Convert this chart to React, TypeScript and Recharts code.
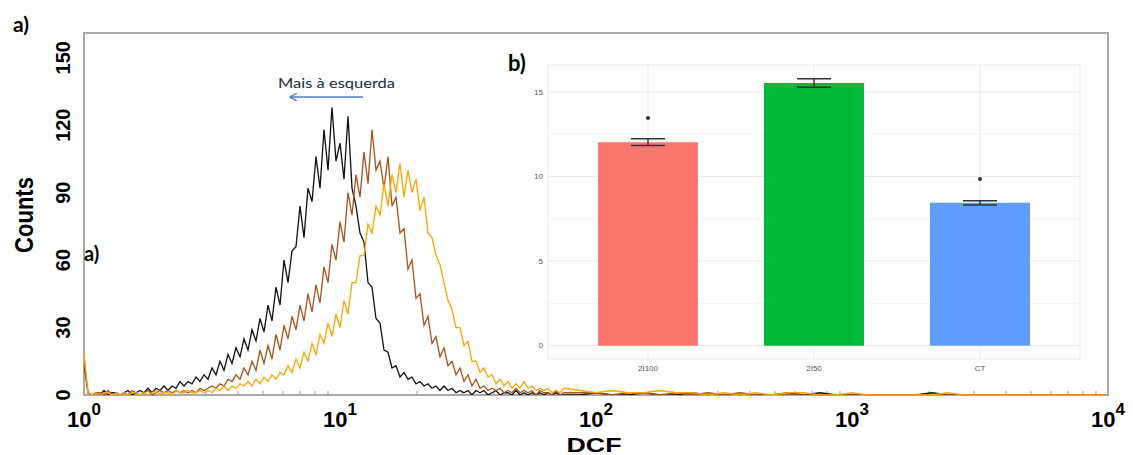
import React from 'react';
import {
  LineChart, Line, XAxis, YAxis, ReferenceArea, ReferenceLine,
  ComposedChart, Bar, ErrorBar, CartesianGrid, Cell,
} from 'recharts';

// ---------- Histogram (a) ----------
// channel = 256 * log10(DCF); main region sampled every 4 channels (0..480)
const BLACK_MAIN = [
  14, 1, 0, 1, 0, 2, 0, 1, 1, 0,
  1, 2, 0, 1, 2, 1, 3, 1, 3, 2,
  4, 2, 4, 3, 6, 4, 6, 5, 8, 6,
  9, 7, 12, 9, 15, 11, 18, 14, 21, 17,
  25, 20, 29, 24, 34, 28, 40, 33, 48, 40,
  60, 50, 64, 66, 84, 70, 92, 86, 106, 92,
  118, 100, 128, 104, 112, 96, 124, 92, 84, 72,
  68, 50, 48, 34, 32, 20, 19, 12, 13, 8,
  10, 7, 8, 5, 6, 4, 5, 3, 4, 2,
  4, 2, 3, 1, 2, 1, 2, 0, 2, 1,
  2, 0, 1, 2, 0, 1, 1, 0, 2, 0,
  1, 0, 1, 0, 1, 0, 1, 0, 1, 0,
  0,
];
const BROWN_MAIN = [
  15, 1, 0, 1, 1, 0, 2, 0, 1, 0,
  1, 0, 2, 1, 0, 1, 2, 0, 1, 2,
  1, 2, 1, 2, 1, 2, 1, 2, 1, 3,
  2, 3, 4, 3, 5, 4, 7, 6, 9, 7,
  12, 9, 15, 11, 20, 14, 22, 16, 27, 20,
  31, 25, 35, 29, 40, 33, 45, 37, 49, 41,
  57, 50, 67, 60, 77, 68, 90, 80, 98, 88,
  108, 94, 118, 100, 104, 92, 106, 84, 88, 72,
  74, 56, 60, 43, 45, 31, 35, 23, 26, 17,
  21, 13, 15, 9, 12, 6, 9, 4, 7, 3,
  4, 2, 3, 2, 3, 1, 2, 1, 3, 1,
  2, 1, 2, 0, 2, 1, 1, 0, 2, 0,
  1,
];
const ORANGE_MAIN = [
  19, 1, 0, 1, 0, 1, 1, 0, 1, 0,
  1, 0, 1, 1, 0, 1, 0, 1, 2, 0,
  1, 1, 0, 2, 1, 1, 2, 1, 1, 2,
  1, 2, 1, 3, 2, 4, 2, 4, 3, 5,
  4, 6, 4, 7, 5, 8, 6, 9, 7, 10,
  9, 13, 10, 16, 12, 19, 15, 23, 18, 27,
  23, 32, 26, 36, 30, 42, 36, 50, 50, 62,
  62, 76, 72, 84, 80, 94, 84, 98, 90, 103,
  88, 100, 90, 96, 82, 88, 72, 70, 62, 58,
  50, 42, 38, 30, 30, 22, 24, 15, 15, 10,
  12, 8, 9, 5, 7, 4, 6, 3, 5, 3,
  6, 3, 4, 2, 3, 2, 3, 1, 2, 1,
  3,
];
// tail region sampled every 16 channels
const TAIL_CHANNELS = [
  496, 512, 528, 544, 560, 576, 592, 608, 624, 640,
  656, 672, 688, 704, 720, 736, 752, 768, 784, 800,
  816, 832, 848, 864, 880, 896, 912, 928, 944, 960,
  976, 992, 1008, 1024,
];
const BLACK_TAIL = [0, 1, 0, 0, 1, 0, 0, 1, 0, 0, 0, 0, 0, 1, 0, 1, 0, 0, 0, 0, 0, 0, 1, 0, 0, 0, 0, 0, 0, 0, 0, 0, 0, 0];
const BROWN_TAIL = [1, 1, 0, 1, 1, 0, 1, 0, 1, 0, 1, 0, 0, 0, 0, 0, 0, 0, 0, 0, 0, 0, 0, 0, 0, 0, 0, 0, 0, 0, 0, 0, 0, 0];
const ORANGE_TAIL = [2, 1, 2, 1, 1, 2, 1, 1, 0, 1, 0, 1, 0, 1, 1, 0, 0, 1, 0, 0, 0, 0, 0, 1, 0, 0, 0, 0, 0, 0, 0, 0, 0, 0];

const X_TICKS = [0, 256, 512, 768, 1024];
const X_TICK_EXPONENTS = ['0', '1', '2', '3', '4'];
const Y_TICKS = [0, 30, 60, 90, 120, 150];
const Y_MAX = 161;

const CHANNELS = [...BLACK_MAIN.map((_, i) => i * 4), ...TAIL_CHANNELS];
const BLACK = [...BLACK_MAIN, ...BLACK_TAIL];
const BROWN = [...BROWN_MAIN, ...BROWN_TAIL];
const ORANGE = [...ORANGE_MAIN, ...ORANGE_TAIL];
const histData = CHANNELS.map((ch, i) => ({ ch, black: BLACK[i], brown: BROWN[i], orange: ORANGE[i] }));

const MINOR_TICKS: number[] = [];
for (let k = 0; k < 4; k++) {
  for (let m = 2; m <= 9; m++) MINOR_TICKS.push(Math.round(256 * (k + Math.log10(m))));
}

// ---------- Inset bar chart (b) ----------
const GROUPS = ['2I100', '2I50', 'CT'];
const MEANS = [12.03, 15.52, 8.44];
const ERRORS = [0.2, 0.25, 0.12];
const OUTLIERS = [13.45, null, 9.85];
const BAR_COLORS = ['#F8766D', '#00BA38', '#619CFF'];
const INSET_Y_TICKS = [0, 5, 10, 15];
const INSET_MINOR = [2.5, 7.5, 12.5];
const INSET_DOMAIN: [number, number] = [-0.79, 16.59];
const barData = GROUPS.map((g, i) => ({ group: g, mean: MEANS[i], err: ERRORS[i], outlier: OUTLIERS[i] }));

const AXIS_FONT = '"Liberation Sans", Arial, sans-serif';
const NOTE_FONT = 'Lato, "Open Sans", sans-serif';

const LogTick = (props: any) => {
  const { x, y, payload } = props;
  const idx = X_TICKS.indexOf(payload.value);
  return (
    <text x={x} y={y + 32} textAnchor="middle" fontFamily={AXIS_FONT} fontWeight="bold" fontSize={22} fill="#000">
      <tspan>10</tspan>
      <tspan dy={-12} fontSize={17}>{X_TICK_EXPONENTS[idx]}</tspan>
    </text>
  );
};

const RotTick = (props: any) => {
  const { x, y, payload } = props;
  const bx = x - 14;
  const label = String(payload.value);
  return (
    <text
      x={bx}
      y={y}
      transform={`rotate(-90, ${bx}, ${y})`}
      textAnchor="middle"
      fontFamily={AXIS_FONT}
      fontWeight="bold"
      fontSize={20}
      fill="#000"
    >
      {label}
    </text>
  );
};

const minorGridGenerator = (props: any) => {
  try {
    const scale = props?.yAxis?.scale;
    if (typeof scale === 'function') return INSET_MINOR.map((v) => scale(v));
    if (scale && typeof scale.map === 'function') return INSET_MINOR.map((v) => scale.map(v));
  } catch (e) {
    // ignore
  }
  return [];
};

export default function App() {
  return (
    <div style={{ position: 'absolute', left: 0, top: 0, width: 1133, height: 455, background: '#fff' }}>
      <div style={{ position: 'absolute', left: 0, top: 0 }}>
        <LineChart width={1133} height={455} data={histData} margin={{ top: 33, right: 25, bottom: 10, left: 44 }}>
          <XAxis
            dataKey="ch"
            type="number"
            domain={[0, 1024]}
            ticks={X_TICKS}
            interval={0}
            tick={<LogTick />}
            axisLine={false}
            tickLine={false}
            tickSize={0}
            tickMargin={0}
            height={50}
            allowDataOverflow
          />
          <YAxis
            type="number"
            domain={[0, Y_MAX]}
            ticks={Y_TICKS}
            interval={0}
            tick={<RotTick />}
            axisLine={false}
            tickLine={false}
            tickSize={0}
            tickMargin={0}
            width={40}
            allowDataOverflow
          />
          <ReferenceArea x1={0} x2={1024} y1={0} y2={Y_MAX} fill="none" stroke="#a9a9a9" strokeWidth={2} />
          {MINOR_TICKS.map((c) => (
            <ReferenceLine key={c} segment={[{ x: c, y: 0 }, { x: c, y: 1.8 }]} stroke="#999" strokeWidth={1} />
          ))}
          <Line dataKey="black" stroke="#111" strokeWidth={1.3} dot={false} isAnimationActive={false} type="linear" />
          <Line dataKey="brown" stroke="#a8521c" strokeWidth={1.3} dot={false} isAnimationActive={false} type="linear" />
          <Line dataKey="orange" stroke="#ffa500" strokeWidth={1.3} dot={false} isAnimationActive={false} type="linear" />
        </LineChart>
      </div>

      <div style={{ position: 'absolute', left: 500, top: 40 }}>
        <ComposedChart width={600} height={340} data={barData} margin={{ top: 25, right: 20, bottom: 5, left: 18 }}>
          <CartesianGrid stroke="#f3f3f3" strokeWidth={1} vertical={false} horizontalCoordinatesGenerator={minorGridGenerator} />
          <CartesianGrid stroke="#ebebeb" strokeWidth={1} />
          <XAxis
            dataKey="group"
            padding={{ left: 17, right: 17 }}
            axisLine={false}
            tickLine={false}
            tickSize={4}
            height={16}
            tick={{ fontSize: 8, fill: '#555', fontFamily: AXIS_FONT }}
          />
          <YAxis
            type="number"
            domain={INSET_DOMAIN}
            ticks={INSET_Y_TICKS}
            interval={0}
            axisLine={false}
            tickLine={false}
            tickSize={3}
            width={30}
            allowDataOverflow
            tick={{ fontSize: 8, fill: '#555', fontFamily: AXIS_FONT }}
          />
          <Bar dataKey="mean" barSize={100} isAnimationActive={false}>
            {barData.map((d, i) => (
              <Cell key={d.group} fill={BAR_COLORS[i]} />
            ))}
            <ErrorBar dataKey="err" width={17} stroke="#333" strokeWidth={1.5} />
          </Bar>
          <Line dataKey="outlier" stroke="none" dot={{ r: 2, fill: '#333', stroke: 'none' }} isAnimationActive={false} />
        </ComposedChart>
      </div>

      <svg width={1133} height={455} style={{ position: 'absolute', left: 0, top: 0, pointerEvents: 'none' }}>
        <defs>
          <marker id="arrowhead" markerWidth="8" markerHeight="8" refX="7" refY="4" orient="auto" markerUnits="userSpaceOnUse">
            <path d="M0,0 L7,4 L0,8" fill="none" stroke="#4f81bd" strokeWidth="1.3" />
          </marker>
        </defs>
        <text x={13} y={32} fontFamily={NOTE_FONT} fontWeight="bold" fontSize={21} fill="#000">a)</text>
        <text x={84} y={261} fontFamily={NOTE_FONT} fontWeight="bold" fontSize={20} fill="#000">a)</text>
        <text x={508} y={71} fontFamily={NOTE_FONT} fontWeight="bold" fontSize={22} fill="#000">b)</text>
        <text x={278} y={88} fontFamily={NOTE_FONT} fontSize={14} fill="#222a3c" textLength={117} lengthAdjust="spacingAndGlyphs">Mais à esquerda</text>
        <line x1={363} y1={97} x2={290} y2={97} stroke="#4f81bd" strokeWidth={1.3} markerEnd="url(#arrowhead)" />
        <text
          x={33}
          y={215}
          transform="rotate(-90, 33, 215)"
          textAnchor="middle"
          fontFamily={AXIS_FONT}
          fontWeight="bold"
          fontSize={26}
          textLength={76}
          lengthAdjust="spacingAndGlyphs"
          fill="#000"
        >
          Counts
        </text>
        <text
          x={594}
          y={452}
          textAnchor="middle"
          fontFamily={AXIS_FONT}
          fontWeight="bold"
          fontSize={21}
          textLength={55}
          lengthAdjust="spacingAndGlyphs"
          fill="#000"
        >
          DCF
        </text>
      </svg>
    </div>
  );
}
